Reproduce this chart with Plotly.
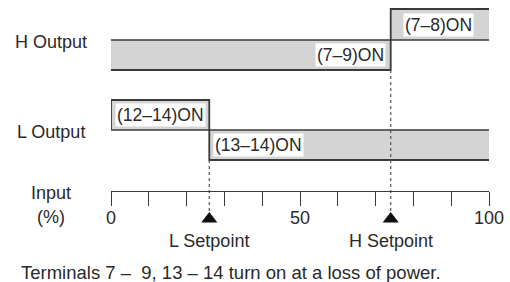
import plotly.graph_objects as go

# ---- data ----
input_ticks = [0, 10, 20, 30, 40, 50, 60, 70, 80, 90, 100]
tick_labels = ["0", "", "", "", "", "50", "", "", "", "", "100"]
setpoint_names = ["L Setpoint", "H Setpoint"]
setpoint_values = [26, 74]
h_labels = ["(7–9)ON", "(7–8)ON"]
l_labels = ["(12–14)ON", "(13–14)ON"]
row_labels = ["H Output", "L Output"]
footnote = "Terminals 7 –  9, 13 – 14 turn on at a loss of power."

# ---- layout constants (pixel rows, y axis is pixel-like) ----
W, H = 510, 282
X0_PX, X1_PX = 111, 489
H_TOP, H_MID, H_BOT = 9, 40, 70
L_TOP, L_MID, L_BOT = 100, 130, 160
AXIS_Y = 191
TRI_Y = 219
FILL = "#d4d4d4"
LINE = "#3a3a3a"
TXT = "#2a2a2a"
FONT = "Liberation Sans, Arial, sans-serif"

xmin, xmax = input_ticks[0], input_ticks[-1]
lsp, hsp = setpoint_values

fig = go.Figure()

def rect(x0, x1, y0, y1):
    fig.add_trace(go.Scatter(x=[x0, x1, x1, x0, x0], y=[y0, y0, y1, y1, y0],
                             mode="lines", fill="toself", fillcolor=FILL,
                             line=dict(width=0), hoverinfo="skip", showlegend=False))

def line(xs, ys, width=1.6, dash=None, color=LINE):
    fig.add_trace(go.Scatter(x=xs, y=ys, mode="lines",
                             line=dict(color=color, width=width, dash=dash),
                             hoverinfo="skip", showlegend=False))

# H output: ON (7-9) below setpoint, ON (7-8) above
rect(xmin, hsp, H_MID, H_BOT)
rect(hsp, xmax, H_TOP, H_MID)
line([xmin, xmax], [H_MID, H_MID], width=1.4)
line([xmin, hsp, hsp, xmax], [H_BOT, H_BOT, H_TOP, H_TOP], width=1.8)

# L output: ON (12-14) below setpoint, ON (13-14) above
rect(xmin, lsp, L_TOP, L_MID)
rect(lsp, xmax, L_MID, L_BOT)
line([xmin, xmax], [L_MID, L_MID], width=1.4)
line([xmin, xmin, lsp, lsp, xmax], [L_MID, L_TOP, L_TOP, L_BOT, L_BOT], width=1.8)

# dashed setpoint guides
line([lsp, lsp], [L_BOT, TRI_Y - 7], width=1.2, dash="3px,3px", color="#555")
line([hsp, hsp], [H_BOT, TRI_Y - 7], width=1.2, dash="3px,3px", color="#555")

# setpoint triangles
fig.add_trace(go.Scatter(x=setpoint_values, y=[TRI_Y] * 2, mode="markers",
                         marker=dict(symbol="triangle-up", size=14, color="#111"),
                         hoverinfo="skip", showlegend=False))

ann = []
def label(x, y, text, anchor, xshift):
    ann.append(dict(x=x, y=y, xref="x", yref="y", text=text, showarrow=False,
                    xanchor=anchor, yanchor="middle", xshift=xshift,
                    bgcolor="white", borderpad=1,
                    font=dict(family=FONT, size=17.5, color=TXT)))

label(hsp, (H_MID + H_BOT) / 2, h_labels[0], "right", -5)
label(hsp, (H_TOP + H_MID) / 2, h_labels[1], "left", 12)
label(xmin, (L_TOP + L_MID) / 2, l_labels[0], "left", 4)
label(lsp, (L_MID + L_BOT) / 2, l_labels[1], "left", 4)

for name, sp in zip(setpoint_names, setpoint_values):
    ann.append(dict(x=sp, y=241, xref="x", yref="y", text=name, showarrow=False,
                    xanchor="center", yanchor="middle",
                    font=dict(family=FONT, size=18, color=TXT)))

def side(text, y):
    ann.append(dict(x=51 / W, y=y, xref="paper", yref="y", text=text, showarrow=False,
                    xanchor="center", yanchor="middle",
                    font=dict(family=FONT, size=18, color=TXT)))

side(row_labels[0], 42)
side(row_labels[1], 132)
side("Input", 193)
side("(%)", 217)

ann.append(dict(x=19 / W, y=272, xref="paper", yref="y", text=footnote, showarrow=False,
                xanchor="left", yanchor="middle",
                font=dict(family=FONT, size=18.5, color=TXT)))

fig.update_layout(
    width=W, height=H, margin=dict(l=0, r=0, t=0, b=0, autoexpand=False),
    paper_bgcolor="white", plot_bgcolor="white",
    annotations=ann, showlegend=False,
    xaxis=dict(domain=[X0_PX / W, X1_PX / W], range=[xmin, xmax],
               anchor="free", position=1 - AXIS_Y / H, side="bottom",
               showline=True, linecolor=LINE, linewidth=1.4,
               ticks="outside", ticklen=14, tickwidth=1.2, tickcolor=LINE,
               tickvals=input_ticks, ticktext=tick_labels, automargin=False,
               ticklabelstandoff=-4,
               tickfont=dict(family=FONT, size=18, color=TXT),
               showgrid=False, zeroline=False, fixedrange=True),
    yaxis=dict(domain=[0, 1], range=[H, 0], visible=False, fixedrange=True,
               automargin=False),
)

fig.write_html("out.html", config={"responsive": False, "displayModeBar": False},
               post_script="document.body.style.margin='0';document.body.style.overflow='hidden';")
